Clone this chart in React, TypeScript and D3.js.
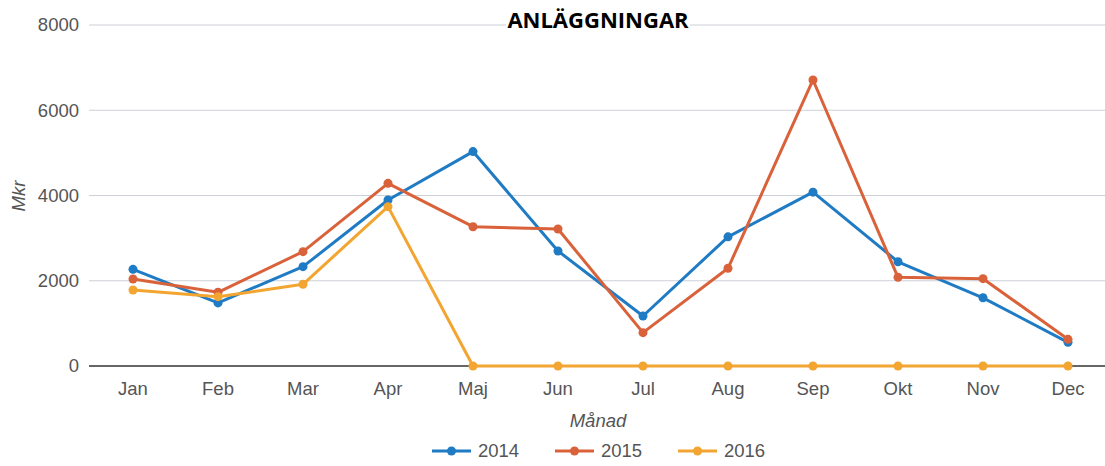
import React from "react";
import * as d3 from "d3";

const months = ["Jan", "Feb", "Mar", "Apr", "Maj", "Jun", "Jul", "Aug", "Sep", "Okt", "Nov", "Dec"];
const s2014 = [2268, 1480, 2330, 3894, 5030, 2698, 1173, 3030, 4078, 2445, 1600, 555];
const s2015 = [2040, 1729, 2682, 4286, 3268, 3214, 782, 2292, 6710, 2081, 2049, 626];
const s2016 = [1783, 1626, 1917, 3738, 0, 0, 0, 0, 0, 0, 0, 0];
const yTicks = [0, 2000, 4000, 6000, 8000];
const seriesNames = ["2014", "2015", "2016"];
const colors = ["#1f7bc3", "#d9623b", "#f2a531"];

const W = 1105;
const H = 466;
const left = 90.5;
const right = 1110.5;
const top = 25;
const bottom = 366;

export default function App() {
  const x = d3.scaleBand<string>().domain(months).range([left, right]);
  const y = d3.scaleLinear().domain([0, 8000]).range([bottom, top]);
  const cx = (m: string) => (x(m) as number) + x.bandwidth() / 2;
  const line = d3
    .line<number>()
    .x((_, i) => cx(months[i]))
    .y((d) => y(d));
  const all = [s2014, s2015, s2016];
  const font = "'Liberation Sans', Arial, sans-serif";
  const legendX = [432, 555, 678];
  return (
    <svg width={W} height={H} style={{ position: "absolute", left: 0, top: 0 }}>
      <rect width={W} height={H} fill="#fff" />
      {yTicks.map((t) => (
        <g key={t}>
          <line x1={89} x2={W} y1={y(t)} y2={y(t)} stroke={t === 0 ? "#333" : "#cdd0d8"} strokeWidth={t === 0 ? 1.5 : 1.2} />
          <text x={79} y={y(t)} dy="0.35em" textAnchor="end" fontFamily={font} fontSize={18.5} fill="#555">
            {t}
          </text>
        </g>
      ))}
      <rect x={506} y={8} width={184} height={24} fill="#fff" />
      <text x={598} y={28} textAnchor="middle" fontFamily="'Open Sans', sans-serif" fontWeight="bold" fontSize={22} fill="#000">
        ANLÄGGNINGAR
      </text>
      {months.map((m) => (
        <text key={m} x={cx(m)} y={389} dy="0.35em" textAnchor="middle" fontFamily={font} fontSize={18.5} fill="#555">
          {m}
        </text>
      ))}
      <text x={598} y={427} textAnchor="middle" fontFamily={font} fontSize={18.5} fontStyle="italic" fill="#555">
        Månad
      </text>
      <text transform={`translate(25,196) rotate(-90)`} textAnchor="middle" fontFamily={font} fontSize={18.5} fontStyle="italic" fill="#555">
        Mkr
      </text>
      {all.map((s, k) => (
        <g key={k}>
          <path d={line(s) as string} fill="none" stroke={colors[k]} strokeWidth={3} strokeLinejoin="round" />
          {s.map((v, i) => (
            <circle key={i} cx={cx(months[i])} cy={y(v)} r={4.5} fill={colors[k]} />
          ))}
        </g>
      ))}
      {seriesNames.map((n, k) => (
        <g key={n}>
          <line x1={legendX[k]} x2={legendX[k] + 39} y1={451} y2={451} stroke={colors[k]} strokeWidth={3} />
          <circle cx={legendX[k] + 19.5} cy={451} r={4.5} fill={colors[k]} />
          <text x={legendX[k] + 46} y={451} dy="0.35em" fontFamily={font} fontSize={18.5} fill="#555">
            {n}
          </text>
        </g>
      ))}
    </svg>
  );
}
